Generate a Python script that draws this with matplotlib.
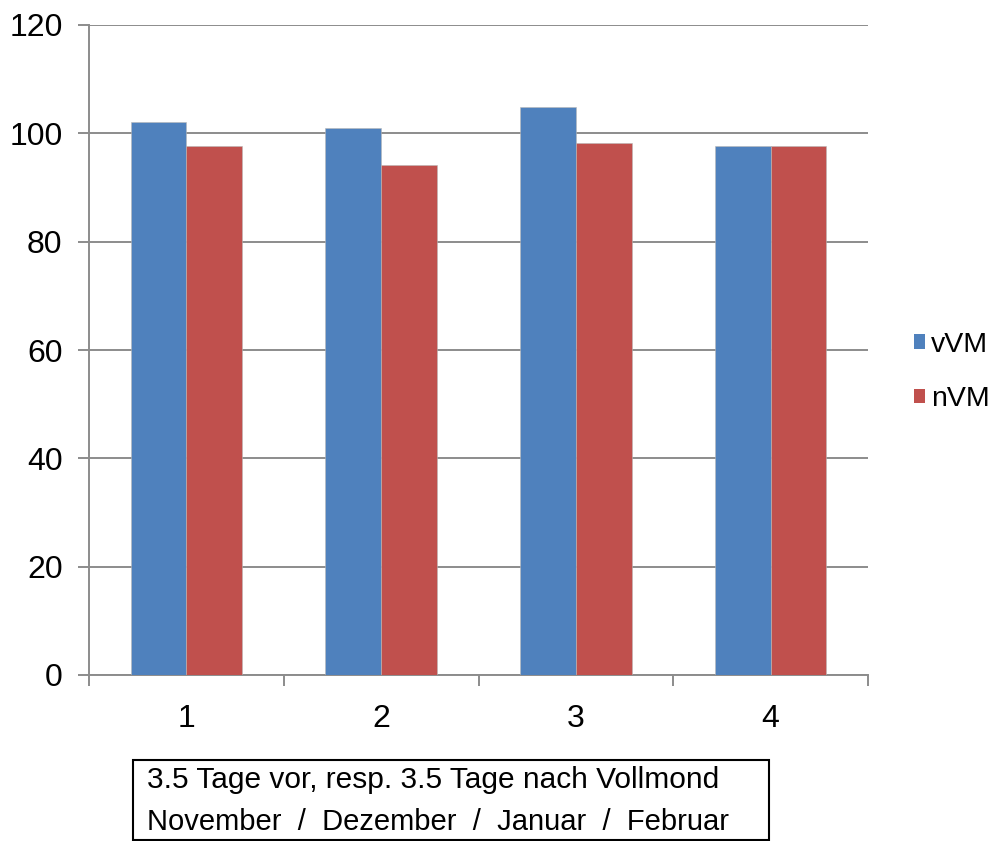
import matplotlib
matplotlib.use("Agg")
import matplotlib.pyplot as plt
from matplotlib.patches import Patch, Rectangle
import numpy as np

plt.rcParams["font.family"] = ["Liberation Sans", "DejaVu Sans"]

# data
categories = ["1", "2", "3", "4"]
vvm = [102.1, 101.0, 104.9, 97.7]
nvm = [97.7, 94.1, 98.3, 97.7]
series_names = ["vVM", "nVM"]
colors = ["#4F81BD", "#C0504D"]
caption = ["3.5 Tage vor, resp. 3.5 Tage nach Vollmond",
           "November  /  Dezember  /  Januar  /  Februar"]

W, H = 1005, 841
fig = plt.figure(figsize=(W / 100, H / 100), dpi=100)
ax = fig.add_axes([89 / W, 1 - 675 / H, (868 - 89) / W, (675 - 25) / H])

x = np.arange(1, len(categories) + 1)
bw = 1 / 3.5  # excel gap width 150%
grid_c = "#8C8C8C"

ax.bar(x - bw / 2, vvm, bw, color=colors[0], edgecolor="#B8B8B8", linewidth=0.4, zorder=3)
ax.bar(x + bw / 2, nvm, bw, color=colors[1], edgecolor="#B8B8B8", linewidth=0.4, zorder=3)

ax.set_xlim(0.5, len(categories) + 0.5)
ax.set_ylim(0, 120)
ax.set_yticks(range(0, 121, 20))
ax.yaxis.grid(True, color=grid_c, linewidth=1.4, zorder=0)
ax.set_axisbelow(True)

ax.set_xticks(x)
ax.set_xticklabels(categories)
ax.set_xticks(np.arange(0.5, len(categories) + 1, 1), minor=True)
ax.tick_params(axis="x", which="major", length=0, pad=21, labelsize=23)
ax.tick_params(axis="x", which="minor", length=8, width=1.4, color=grid_c, direction="out")
ax.tick_params(axis="y", length=8, width=1.4, color=grid_c, pad=11, labelsize=23)

for s in ["top", "right"]:
    ax.spines[s].set_visible(False)
for s in ["left", "bottom"]:
    ax.spines[s].set_color(grid_c)
    ax.spines[s].set_linewidth(1.4)

handles = [Patch(facecolor=c, edgecolor="none") for c in colors]
fig.legend(handles, series_names, loc="center left", bbox_to_anchor=(914 / W, 1 - 372 / H),
           frameon=False, fontsize=20.5, handlelength=0.4, handleheight=0.4,
           handletextpad=0.2, labelspacing=1.0, borderpad=0, borderaxespad=0)

fig.add_artist(Rectangle((133 / W, 1 - 840 / H), 636 / W, 80 / H, transform=fig.transFigure,
                         fill=False, edgecolor="black", linewidth=1.5))
fig.text(147 / W, 1 - 780 / H, caption[0], fontsize=21.5, va="center", ha="left")
fig.text(147 / W, 1 - 822 / H, caption[1], fontsize=21, va="center", ha="left")

fig.savefig("out.png", dpi=100)
